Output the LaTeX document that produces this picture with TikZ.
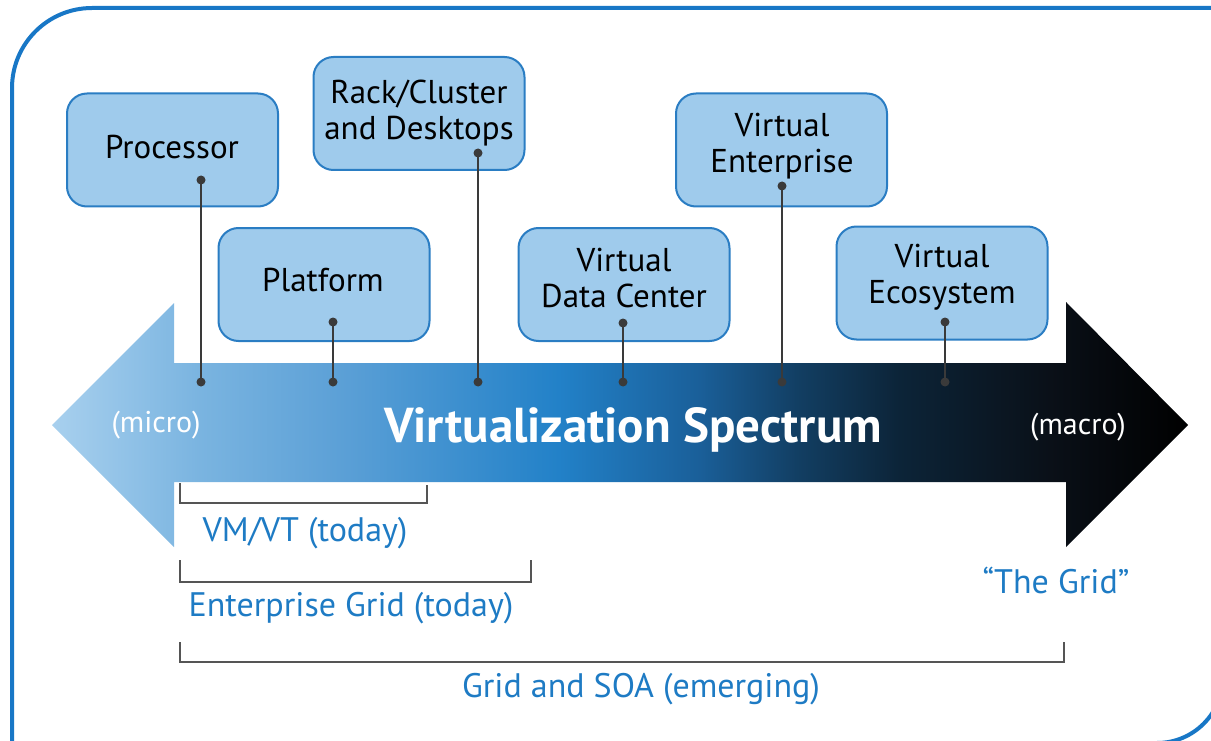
\documentclass[tikz,border=0pt]{standalone}
\usepackage{fontspec}
\setmainfont{PT Sans}
\usetikzlibrary{positioning}

\definecolor{frameblue}{HTML}{1877C6}
\definecolor{boxfill}{HTML}{9FCBEC}
\definecolor{boxedge}{HTML}{2A7DC3}
\definecolor{labelblue}{HTML}{1E7BC4}
\definecolor{dotgray}{HTML}{3A3A3A}
\definecolor{bracketgray}{HTML}{555555}

\definecolor{sp0}{HTML}{A8D0EE}
\definecolor{sp1}{HTML}{7AB4E0}
\definecolor{sp2}{HTML}{5A9FD6}
\definecolor{sp3}{HTML}{2281C8}
\definecolor{sp4}{HTML}{1A5F99}
\definecolor{sp5}{HTML}{123E62}
\definecolor{sp6}{HTML}{0C2438}
\definecolor{sp7}{HTML}{0A1018}
\definecolor{sp8}{HTML}{000000}

% horizontal colour run of the spectrum arrow (path box maps to 25bp..75bp)
\pgfdeclarehorizontalshading{spectrum}{100bp}{
  color(0bp)=(sp0); color(25bp)=(sp0); color(31.5bp)=(sp1); color(38bp)=(sp2);
  color(47.3bp)=(sp3); color(53.5bp)=(sp4); color(57.9bp)=(sp5);
  color(62.3bp)=(sp6); color(68.9bp)=(sp7); color(75bp)=(sp8); color(100bp)=(sp8)}

\tikzset{
  stagebox/.style={draw=boxedge, fill=boxfill, line width=2pt, rounded corners=20pt,
    minimum width=211pt, minimum height=113pt, inner sep=0pt},
  stagetext/.style={align=center, text=black, font=\fontsize{33}{36}\selectfont, inner sep=0pt},
  pin/.style={draw=dotgray, line width=2pt},
  pindot/.style={fill=dotgray},
  bracket/.style={draw=bracketgray, line width=2pt},
  rangelabel/.style={text=labelblue, font=\fontsize{34}{38}\selectfont, inner sep=0pt},
  endlabel/.style={text=white, font=\fontsize{30}{34}\selectfont, inner sep=0pt},
}

\begin{document}
\begin{tikzpicture}[x=1pt, y=-1pt]
\useasboundingbox (0,0) rectangle (1211,741);
\clip (0,0) rectangle (1211,741);

% outer frame: rounded at top left and bottom right only
\draw[frameblue, line width=4pt]
  (12,760) -- (12,88) arc[start angle=180, end angle=90, radius=80pt]
  -- (1240,8) -- (1223,8) -- (1223,677) arc[start angle=0, end angle=-90, radius=66pt]
  -- (1157,743) -- (12,743);

% spectrum arrow
\path[shading=spectrum]
  (52,425) -- (174,303) -- (174,363) -- (1066,363) -- (1066,302) -- (1188,425)
  -- (1066,547) -- (1066,482) -- (174,482) -- (174,547) -- cycle;

\node[text=white, font=\bfseries\fontsize{49}{52}\selectfont, inner sep=0pt] (title) at (633,430) {Virtualization Spectrum};
\node[endlabel] (micro) at (156,425) {(micro)};
\node[endlabel] (macro) at (1078,427) {(macro)};

% stage boxes
\node[stagebox] (proc) at (172.5,150) {};
\node[stagebox] (rack) at (419,113.5) {};
\node[stagebox] (plat) at (324,284.5) {};
\node[stagebox] (vdc)  at (624,284.5) {};
\node[stagebox] (vent) at (781.5,150) {};
\node[stagebox] (veco) at (942,283) {};

\node[stagetext] (procL) at (172,147) {Processor};
\node[stagetext] (rackL) at (419,113) {Rack/Cluster\\and Desktops};
\node[stagetext] (platL) at (323,280) {Platform};
\node[stagetext] (vdcL)  at (624,278) {Virtual\\Data Center};
\node[stagetext] (ventL) at (782,146) {Virtual\\Enterprise};
\node[stagetext] (vecoL) at (942,277) {Virtual\\Ecosystem};

% pin points inside the boxes and on the arrow
\coordinate (procT) at (201,180);  \coordinate (procB) at (201,382);
\coordinate (rackT) at (478,153);  \coordinate (rackB) at (478,382);
\coordinate (platT) at (333,322);  \coordinate (platB) at (333,382);
\coordinate (vdcT)  at (623,323);  \coordinate (vdcB)  at (623,382);
\coordinate (ventT) at (782,186);  \coordinate (ventB) at (782,382);
\coordinate (vecoT) at (945,322);  \coordinate (vecoB) at (945,382);

\foreach \p in {proc,rack,plat,vdc,vent,veco}{
  \draw[pin] (\p T) -- (\p B);
  \fill[pindot] (\p T) circle (4.5pt);
  \fill[pindot] (\p B) circle (4.5pt);
}

% range brackets
\coordinate (vmL) at (180,483);  \coordinate (vmR) at (427,485);
\draw[bracket] (vmL) |- (427,503) -- (vmR);
\node[rangelabel] (vm) at (305,533) {VM/VT (today)};

\coordinate (egL) at (180,560);  \coordinate (egR) at (531,560);
\draw[bracket] (egL) |- (531,582) -- (egR);
\node[rangelabel] (eg) at (351,608) {Enterprise Grid (today)};

\coordinate (soaL) at (180,642); \coordinate (soaR) at (1064,642);
\draw[bracket] (soaL) |- (1064,662) -- (soaR);
\node[rangelabel] (soa) at (641,689) {Grid and SOA (emerging)};

\node[rangelabel] (grid) at (1056,580) {“The Grid”};
\end{tikzpicture}
\end{document}
